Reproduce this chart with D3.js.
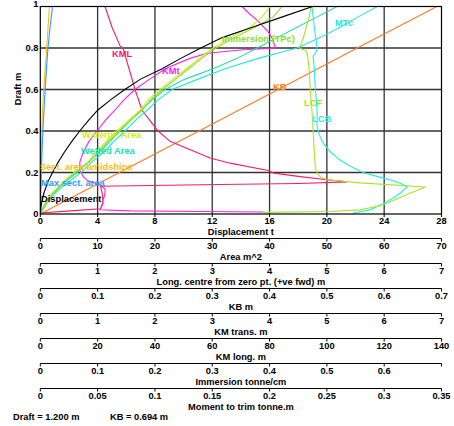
<!DOCTYPE html>
<html><head><meta charset="utf-8">
<script src="https://cdnjs.cloudflare.com/ajax/libs/d3/7.8.5/d3.min.js"></script>
<style>
body{margin:0;background:#fff;}
svg text{font-family:"Liberation Sans",Arial,sans-serif;font-weight:bold;font-size:9.3px;}
</style></head><body>
<svg id="c" width="454" height="426"></svg>
<script>
// ---------- data ----------
const draftTicks = [0, 0.2, 0.4, 0.6, 0.8, 1];
const draftTickLabels = ["0", "0.2", "0.4", "0.6", "0.8", "1"];

const dispTicks = [0, 4, 8, 12, 16, 20, 24, 28];
const areaTicks = [0, 10, 20, 30, 40, 50, 60, 70];
const longTicks = [0, 1, 2, 3, 4, 5, 6, 7];
const kbTicks = [0, 0.1, 0.2, 0.3, 0.4, 0.5, 0.6, 0.7];
const kmtTicks = [0, 1, 2, 3, 4, 5, 6, 7];
const kmlTicks = [0, 20, 40, 60, 80, 100, 120, 140];
const tpcTicks = [0, 0.1, 0.2, 0.3, 0.4, 0.5, 0.6, 0.7];
const tpcTickLabels = ["0", "0.1", "0.2", "0.3", "0.4", "0.5", "0.6", ""];
const mtcTicks = [0, 0.05, 0.1, 0.15, 0.2, 0.25, 0.3, 0.35];

// Displacement (t) vs draft
const dispDraft = [0, 0.05, 0.1, 0.15, 0.2, 0.25, 0.3, 0.35, 0.4, 0.45, 0.5, 0.55, 0.6, 0.65, 0.7, 0.75, 0.8, 0.85, 0.9, 0.95, 1.0];
const dispVal   = [0, 0.08, 0.25, 0.5, 0.85, 1.25, 1.7, 2.2, 2.75, 3.35, 4.0, 4.9, 5.9, 7.0, 8.5, 9.8, 11.2, 12.7, 14.8, 16.9, 19.0];

// KB (m)
const kbDraft = [0, 0.2, 0.4, 0.6, 0.8, 1.0];
const kbVal   = [0, 0.138, 0.277, 0.415, 0.553, 0.692];

// Sect. area amidships (m^2)
const sectDraft = [0, 0.1, 0.2, 0.3, 0.4, 0.5, 0.6, 0.7, 0.8, 0.9, 1.0];
const sectVal   = [0, 0.05, 0.12, 0.2, 0.28, 0.38, 0.6, 0.85, 1.12, 1.35, 1.6];

// Max sect. area (m^2)
const maxSectDraft = [0, 0.1, 0.2, 0.3, 0.4, 0.5, 0.6, 0.7, 0.8, 0.9, 1.0];
const maxSectVal   = [0, 0.08, 0.18, 0.3, 0.45, 0.65, 0.85, 1.08, 1.34, 1.7, 2.13];

// Waterplane area (m^2)
const wpaDraft = [0, 0.05, 0.1, 0.15, 0.2, 0.25, 0.3, 0.35, 0.4, 0.45, 0.5, 0.55, 0.6, 0.65, 0.7, 0.75, 0.8, 0.85, 0.9, 0.95, 1.0];
const wpaVal   = [0, 1.0, 2.04, 3.79, 5.88, 8.33, 9.72, 11.47, 13.39, 15.31, 17.42, 18.81, 20.91, 23.18, 25.45, 27.72, 30.15, 33.11, 36.6, 38.7, 40.1];

// Immersion TPc (tonne/cm)
const tpcDraft = [0, 0.05, 0.1, 0.15, 0.2, 0.25, 0.3, 0.35, 0.4, 0.45, 0.5, 0.55, 0.6, 0.65, 0.7, 0.75, 0.8, 0.85, 0.9, 0.95, 1.0];
const tpcVal   = [0, 0.0108, 0.0222, 0.04, 0.0606, 0.0859, 0.1007, 0.1182, 0.1374, 0.1566, 0.1776, 0.1924, 0.2133, 0.236, 0.2587, 0.2814, 0.3067, 0.3381, 0.3748, 0.4062, 0.4219];

// Wetted area (m^2)
const wetDraft = [0, 0.05, 0.1, 0.15, 0.2, 0.25, 0.3, 0.35, 0.4, 0.45, 0.5, 0.55, 0.6, 0.65, 0.7, 0.75, 0.8, 0.85, 0.9, 0.95, 1.0];
const wetVal   = [0, 0.82, 2.22, 4.14, 6.41, 8.33, 10.42, 12.17, 13.91, 15.66, 17.58, 19.5, 21.77, 25.26, 30.15, 34.34, 37.83, 41.32, 44.81, 48.3, 51.79];

// MTc (tonne.m)
const mtcDraft = [0, 0.05, 0.1, 0.15, 0.2, 0.25, 0.3, 0.35, 0.4, 0.45, 0.5, 0.55, 0.6, 0.65, 0.7, 0.75, 0.8, 0.85, 0.9, 0.95, 1.0];
const mtcVal   = [0, 0.005, 0.0128, 0.0233, 0.0355, 0.0451, 0.0556, 0.0643, 0.0739, 0.0827, 0.0931, 0.1027, 0.115, 0.1376, 0.1612, 0.19, 0.224, 0.2441, 0.2616, 0.2773, 0.2939];

// KM trans. (m)
const kmtDraft = [1.0, 0.97, 0.93, 0.88, 0.84, 0.8, 0.79, 0.775, 0.75, 0.7, 0.65, 0.6, 0.55, 0.5, 0.45, 0.4, 0.35, 0.3, 0.25, 0.21, 0.18, 0.16, 0.14, 0.12, 0.1, 0.06, 0.03, 0.02, 0.015, 0.012, 0.01];
const kmtVal   = [3.52, 3.63, 3.8, 3.97, 4.06, 4.1, 3.49, 2.91, 2.61, 2.18, 1.91, 1.65, 1.46, 1.3, 1.13, 0.99, 0.85, 0.75, 0.69, 0.69, 0.75, 0.83, 1.04, 1.13, 1.13, 1.09, 1.06, 1.04, 1.57, 2.79, 3.89];

// KM long. (m)
const kmlDraft = [1.0, 0.9, 0.81, 0.8, 0.7, 0.6, 0.5, 0.45, 0.4, 0.35, 0.3, 0.27, 0.245, 0.21, 0.2, 0.197, 0.18, 0.165, 0.155, 0.147, 0.142, 0.137, 0.134, 0.1, 0.05, 0.025, 0.015, 0.005];
const kmlVal   = [22.59, 25.03, 27.83, 28.87, 30.97, 33.06, 35.51, 38.3, 41.09, 45.28, 54.01, 59.25, 66.23, 79.5, 80.89, 81.59, 90.67, 100.1, 107.1, 90.0, 62.74, 38.3, 21.0, 21.6, 21.9, 21.0, 10.5, 0];

// LCF (m from zero pt.)
const lcfDraft = [1.0, 0.95, 0.9, 0.85, 0.82, 0.8, 0.785, 0.77, 0.7, 0.6, 0.5, 0.4, 0.3, 0.22, 0.2, 0.18, 0.165, 0.15, 0.13, 0.1, 0.065, 0.04, 0.02, 0.012, 0.008];
const lcfVal   = [4.725, 4.69, 4.64, 4.59, 4.55, 4.52, 4.64, 4.66, 4.69, 4.71, 4.74, 4.76, 4.78, 4.8, 4.83, 4.88, 5.0, 5.58, 6.72, 6.45, 6.16, 5.93, 5.58, 5.06, 3.89];

// LCB (m from zero pt.)
const lcbDraft = [1.0, 0.9, 0.8, 0.78, 0.76, 0.7, 0.6, 0.5, 0.42, 0.38, 0.34, 0.3, 0.26, 0.23, 0.2, 0.18, 0.16, 0.145, 0.13, 0.1, 0.077, 0.05, 0.02, 0.005];
const lcbVal   = [4.74, 4.78, 4.83, 4.81, 4.76, 4.78, 4.8, 4.83, 4.83, 4.87, 4.94, 5.06, 5.23, 5.41, 5.63, 5.89, 6.16, 6.31, 6.4, 6.28, 6.16, 5.98, 5.76, 5.46];

// ---------- layout ----------
const X0 = 40.3, X1 = 441.5, Y0 = 214, Y1 = 6.5;
const svg = d3.select("#c");
const y = d3.scaleLinear().domain([0, 1]).range([Y0, Y1]);
const sc = dom => d3.scaleLinear().domain(dom).range([X0, X1]);
const xs = {
  disp: sc([0, 28]), area: sc([0, 70]), long: sc([0, 7]), kb: sc([0, 0.7]),
  kmt: sc([0, 7]), kml: sc([0, 140]), tpc: sc([0, 0.7]), mtc: sc([0, 0.35])
};

// grid
const g = svg.append("g");
g.selectAll("line.v").data(dispTicks.slice(1, -1)).enter().append("line")
  .attr("x1", d => xs.disp(d)).attr("x2", d => xs.disp(d)).attr("y1", Y1).attr("y2", Y0)
  .attr("stroke", "#333").attr("stroke-width", 1.3);
g.selectAll("line.h").data(draftTicks.slice(1, -1)).enter().append("line")
  .attr("y1", d => y(d)).attr("y2", d => y(d)).attr("x1", X0).attr("x2", X1)
  .attr("stroke", "#333").attr("stroke-width", 1.3);

// y tick labels
svg.selectAll("text.yt").data(draftTicks).enter().append("text")
  .attr("x", 38.5).attr("y", (d, i) => i === draftTicks.length - 1 ? 4 : y(d)).attr("dy", "0.35em").attr("text-anchor", "end")
  .text((d, i) => draftTickLabels[i]);
svg.append("text").attr("transform", "translate(21,89) rotate(-90)").attr("text-anchor", "middle")
  .text("Draft  m");

// curves
const series = [
  {d: kbDraft, v: kbVal, s: "kb", c: "#ff7a22"},
  {d: kmlDraft, v: kmlVal, s: "kml", c: "#ff1a66"},
  {d: kmtDraft, v: kmtVal, s: "kmt", c: "#ff22ee"},
  {d: sectDraft, v: sectVal, s: "area", c: "#ffbb11"},
  {d: maxSectDraft, v: maxSectVal, s: "area", c: "#2a9cff"},
  {d: wetDraft, v: wetVal, s: "area", c: "#22e0aa"},
  {d: mtcDraft, v: mtcVal, s: "mtc", c: "#22e8e0"},
  {d: wpaDraft, v: wpaVal, s: "area", c: "#ccee22"},
  {d: tpcDraft, v: tpcVal, s: "tpc", c: "#88e022"},
  {d: lcbDraft, v: lcbVal, s: "long", c: "#22eeee"},
  {d: lcfDraft, v: lcfVal, s: "long", c: "#a4e622"},
  {d: dispDraft, v: dispVal, s: "disp", c: "#000000"}
];
svg.append("clipPath").attr("id", "pc").append("rect")
  .attr("x", X0).attr("y", Y1 - 0.5).attr("width", X1 - X0).attr("height", Y0 - Y1 + 0.5);
const cg = svg.append("g").attr("clip-path", "url(#pc)");
series.forEach(se => {
  const pts = se.d.map((d, i) => [se.v[i], d]);
  const line = d3.line().x(p => xs[se.s](p[0])).y(p => y(p[1]));
  cg.append("path").attr("d", line(pts)).attr("fill", "none").attr("stroke", se.c).attr("stroke-width", 1.1);
});

// frame
svg.append("rect").attr("x", X0).attr("y", Y1).attr("width", X1 - X0).attr("height", Y0 - Y1)
  .attr("fill", "none").attr("stroke", "#000").attr("stroke-width", 1.2);

// curve labels
const labels = [
  ["KML", 112, 54, "#ff1a66"], ["KMt", 162, 71, "#ff22ee"], ["Immersion (TPc)", 222, 39, "#88e022"],
  ["MTc", 335, 23, "#22e8e0"], ["KB", 273, 87, "#ff7a22"], ["LCF", 304, 103, "#a4e622"],
  ["LCB", 312, 119, "#22eeee"], ["Waterpl. Area", 82, 135, "#ccee22"], ["Wetted Area", 81, 151, "#22e0aa"],
  ["Sect. area amidships", 40, 167, "#ffbb11"], ["Max sect. area", 41, 183, "#2a9cff"], ["Displacement", 41, 199, "#000"]
];
svg.selectAll("text.lab").data(labels).enter().append("text")
  .attr("x", d => d[1]).attr("y", d => d[2]).attr("dy", "0.35em").attr("fill", d => d[3]).text(d => d[0]);

// bottom axes
const axes = [
  {s: "disp", t: dispTicks, f: d => String(d), title: "Displacement  t", ly: Y0, line: false},
  {s: "area", t: areaTicks, f: d => String(d), title: "Area  m^2", ly: 238.5, line: true},
  {s: "long", t: longTicks, f: d => String(d), title: "Long. centre  from zero pt. (+ve fwd) m", ly: 263.5, line: true},
  {s: "kb", t: kbTicks, f: d => String(d), title: "KB  m", ly: 288.5, line: true},
  {s: "kmt", t: kmtTicks, f: d => String(d), title: "KM trans.  m", ly: 313.5, line: true},
  {s: "kml", t: kmlTicks, f: d => String(d), title: "KM long.  m", ly: 338.5, line: true},
  {s: "tpc", t: tpcTicks, f: (d, i) => tpcTickLabels[i], title: "Immersion  tonne/cm", ly: 363.5, line: true},
  {s: "mtc", t: mtcTicks, f: d => String(d), title: "Moment to trim  tonne.m", ly: 388.5, line: true}
];
axes.forEach(a => {
  const ag = svg.append("g").attr("transform", `translate(0,${a.ly})`);
  if (a.line) ag.append("line").attr("x1", X0).attr("x2", X1).attr("y1", 0).attr("y2", 0)
    .attr("stroke", "#000").attr("stroke-width", 1.2);
  ag.selectAll("line.t").data(a.t).enter().append("line")
    .attr("x1", d => xs[a.s](d)).attr("x2", d => xs[a.s](d)).attr("y1", 0).attr("y2", 3)
    .attr("stroke", "#000").attr("stroke-width", 1);
  ag.selectAll("text.tl").data(a.t).enter().append("text")
    .attr("x", d => xs[a.s](d)).attr("y", 7).attr("dy", "0.35em").attr("text-anchor", "middle")
    .text((d, i) => a.f(d, i));
  ag.append("text").attr("x", (X0 + X1) / 2).attr("y", a.line ? 18 : 17.5).attr("dy", "0.35em")
    .attr("text-anchor", "middle").text(a.title);
});

svg.append("text").attr("x", 13).attr("y", 417).attr("dy", "0.35em").text("Draft = 1.200 m");
svg.append("text").attr("x", 110).attr("y", 417).attr("dy", "0.35em").text("KB = 0.694 m");
</script>
</body></html>
